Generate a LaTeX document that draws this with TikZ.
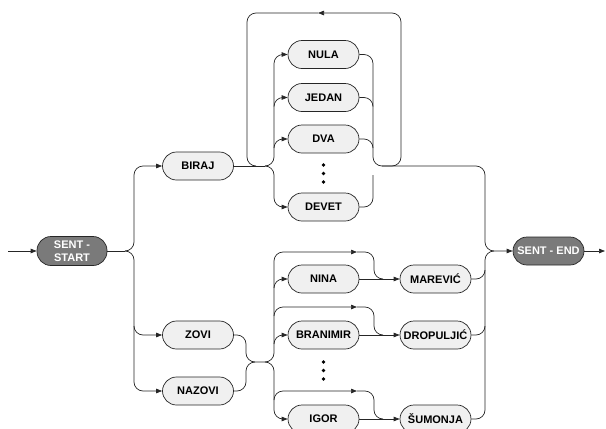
\documentclass[tikz,border=0pt]{standalone}
\usepackage{fontspec}
\setmainfont{Liberation Sans}
\usetikzlibrary{arrows.meta}
\begin{document}
\begin{tikzpicture}[x=1pt,y=-1pt,
  ln/.style={line width=0.7pt, draw=black!85, rounded corners=9pt},
  arr/.style={ln, -{Triangle[length=6pt,width=4.5pt]}},
  word/.style={draw=black!85, line width=0.7pt, fill=black!6, rounded corners=14pt,
    minimum width=71pt, minimum height=28pt, inner sep=1pt,
    font=\fontsize{11}{12}\selectfont\bfseries},
  term/.style={word, fill=black!52, text=white, align=center,
    font=\fontsize{11}{13.5}\selectfont\bfseries},
  dotn/.style={circle, fill=black, inner sep=0pt, minimum size=3.8pt}]
\useasboundingbox (0,0) rectangle (606,429);

% nodes
\node[term, minimum width=70pt, minimum height=29pt, inner sep=0pt] (ss) at (72,251) {SENT -\\START};
\node[word] (biraj) at (198,166) {BIRAJ};
\node[word] (zovi) at (198,335) {ZOVI};
\node[word] (nazovi) at (198,391) {NAZOVI};
\node[word] (nula) at (323.5,54.5) {NULA};
\node[word] (jedan) at (323.5,97.5) {JEDAN};
\node[word] (dva) at (323.5,139) {DVA};
\node[word] (devet) at (323.5,207) {DEVET};
\node[dotn] (da1) at (323.5,165) {};
\node[dotn] (da2) at (323.5,173.5) {};
\node[dotn] (da3) at (323.5,182) {};
\node[word] (nina) at (323.5,279) {NINA};
\node[word] (branimir) at (323.5,335) {BRANIMIR};
\node[word] (igor) at (323.5,419) {IGOR};
\node[dotn] (db1) at (323.5,362) {};
\node[dotn] (db2) at (323.5,370.5) {};
\node[dotn] (db3) at (323.5,379) {};
\node[word] (marevic) at (435.5,279) {MAREVIĆ};
\node[word] (dropuljic) at (435.5,335) {DROPULJIĆ};
\node[word] (sumonja) at (435.5,419) {ŠUMONJA};
\node[term, minimum width=71pt] (se) at (548.5,251) {SENT - END};

% coordinates
\coordinate (in) at (8,251);
\coordinate (out) at (605,251);
\coordinate (jS) at (125,251);
\coordinate (vS) at (134,251);
\coordinate (zb) at (134,326);
\coordinate (jL) at (265,166);
\coordinate (vL) at (274,166);
\coordinate (jR) at (382,166);
\coordinate (lb) at (401,166);
\coordinate (lr) at (401,13);
\coordinate (ll) at (247,13);
\coordinate (lm) at (318,13);
\coordinate (lend) at (256,166);
\coordinate (cT) at (373,166);
\coordinate (cR) at (485,166);
\coordinate (cV) at (485,251);
\coordinate (jE) at (494,251);
\coordinate (jB) at (246,362);
\coordinate (jB1) at (255,362);
\coordinate (jB2) at (265,362);
\coordinate (vB) at (274,362);
\coordinate (bp1) at (357,252);
\coordinate (bq1) at (374,252);
\coordinate (bp2) at (357,307);
\coordinate (bq2) at (374,307);
\coordinate (bp3) at (357,391);
\coordinate (bq3) at (374,391);

% start
\draw[arr] (in) -- (ss.west);
\draw[ln] (ss.east) -- (jS);
\draw[arr] (jS) -- (vS) |- (biraj.west);
\draw[arr] (jS) -- (vS) |- (nazovi.west);
\draw[arr] (zb) |- (zovi.west);

% digits
\draw[ln] (biraj.east) -- (jL);
\draw[arr] (jL) -- (vL) |- (nula.west);
\draw[arr] (274,106.5) |- (jedan.west);
\draw[arr] (274,148) |- (dva.west);
\draw[arr] (jL) -- (vL) |- (devet.west);
\draw[arr] (jR) -- (lb) -- (lr) -- (lm);
\draw[ln] (lm) -- (ll) -- (247,166) -- (lend);
\draw[ln] (nula.east) -| (cT) -- (jR);
\draw[ln] (jedan.east) -| (373,106.5);
\draw[ln] (dva.east) -| (373,148);
\draw[ln] (devet.east) -| (373,175);
\draw[arr] (jR) -- (cR) |- (se.west);

% names
\draw[ln] (zovi.east) -| (jB) -- (jB2);
\draw[ln] (nazovi.east) -| (jB) -- (jB1);
\draw[arr] (jB2) -- (vB) |- (bp1);
\draw[arr] (274,288) |- (nina.west);
\draw[arr] (274,316) |- (bp2);
\draw[arr] (274,344) |- (branimir.west);
\draw[arr] (jB2) -- (vB) |- (igor.west);
\draw[arr] (274,400) |- (bp3);
\draw[ln] (bp1) -- (bq1) |- (383,279);
\draw[ln] (bp2) -- (bq2) |- (383,335);
\draw[ln] (bp3) -- (bq3) |- (383,419);
\draw[arr] (nina.east) -- (marevic.west);
\draw[arr] (branimir.east) -- (dropuljic.west);
\draw[arr] (igor.east) -- (sumonja.west);
\draw[ln] (marevic.east) -| (cV) -- (jE);
\draw[ln] (dropuljic.east) -| (485,270);
\draw[ln] (sumonja.east) -| (485,326);

% end
\draw[arr] (se.east) -- (out);
\end{tikzpicture}
\end{document}
